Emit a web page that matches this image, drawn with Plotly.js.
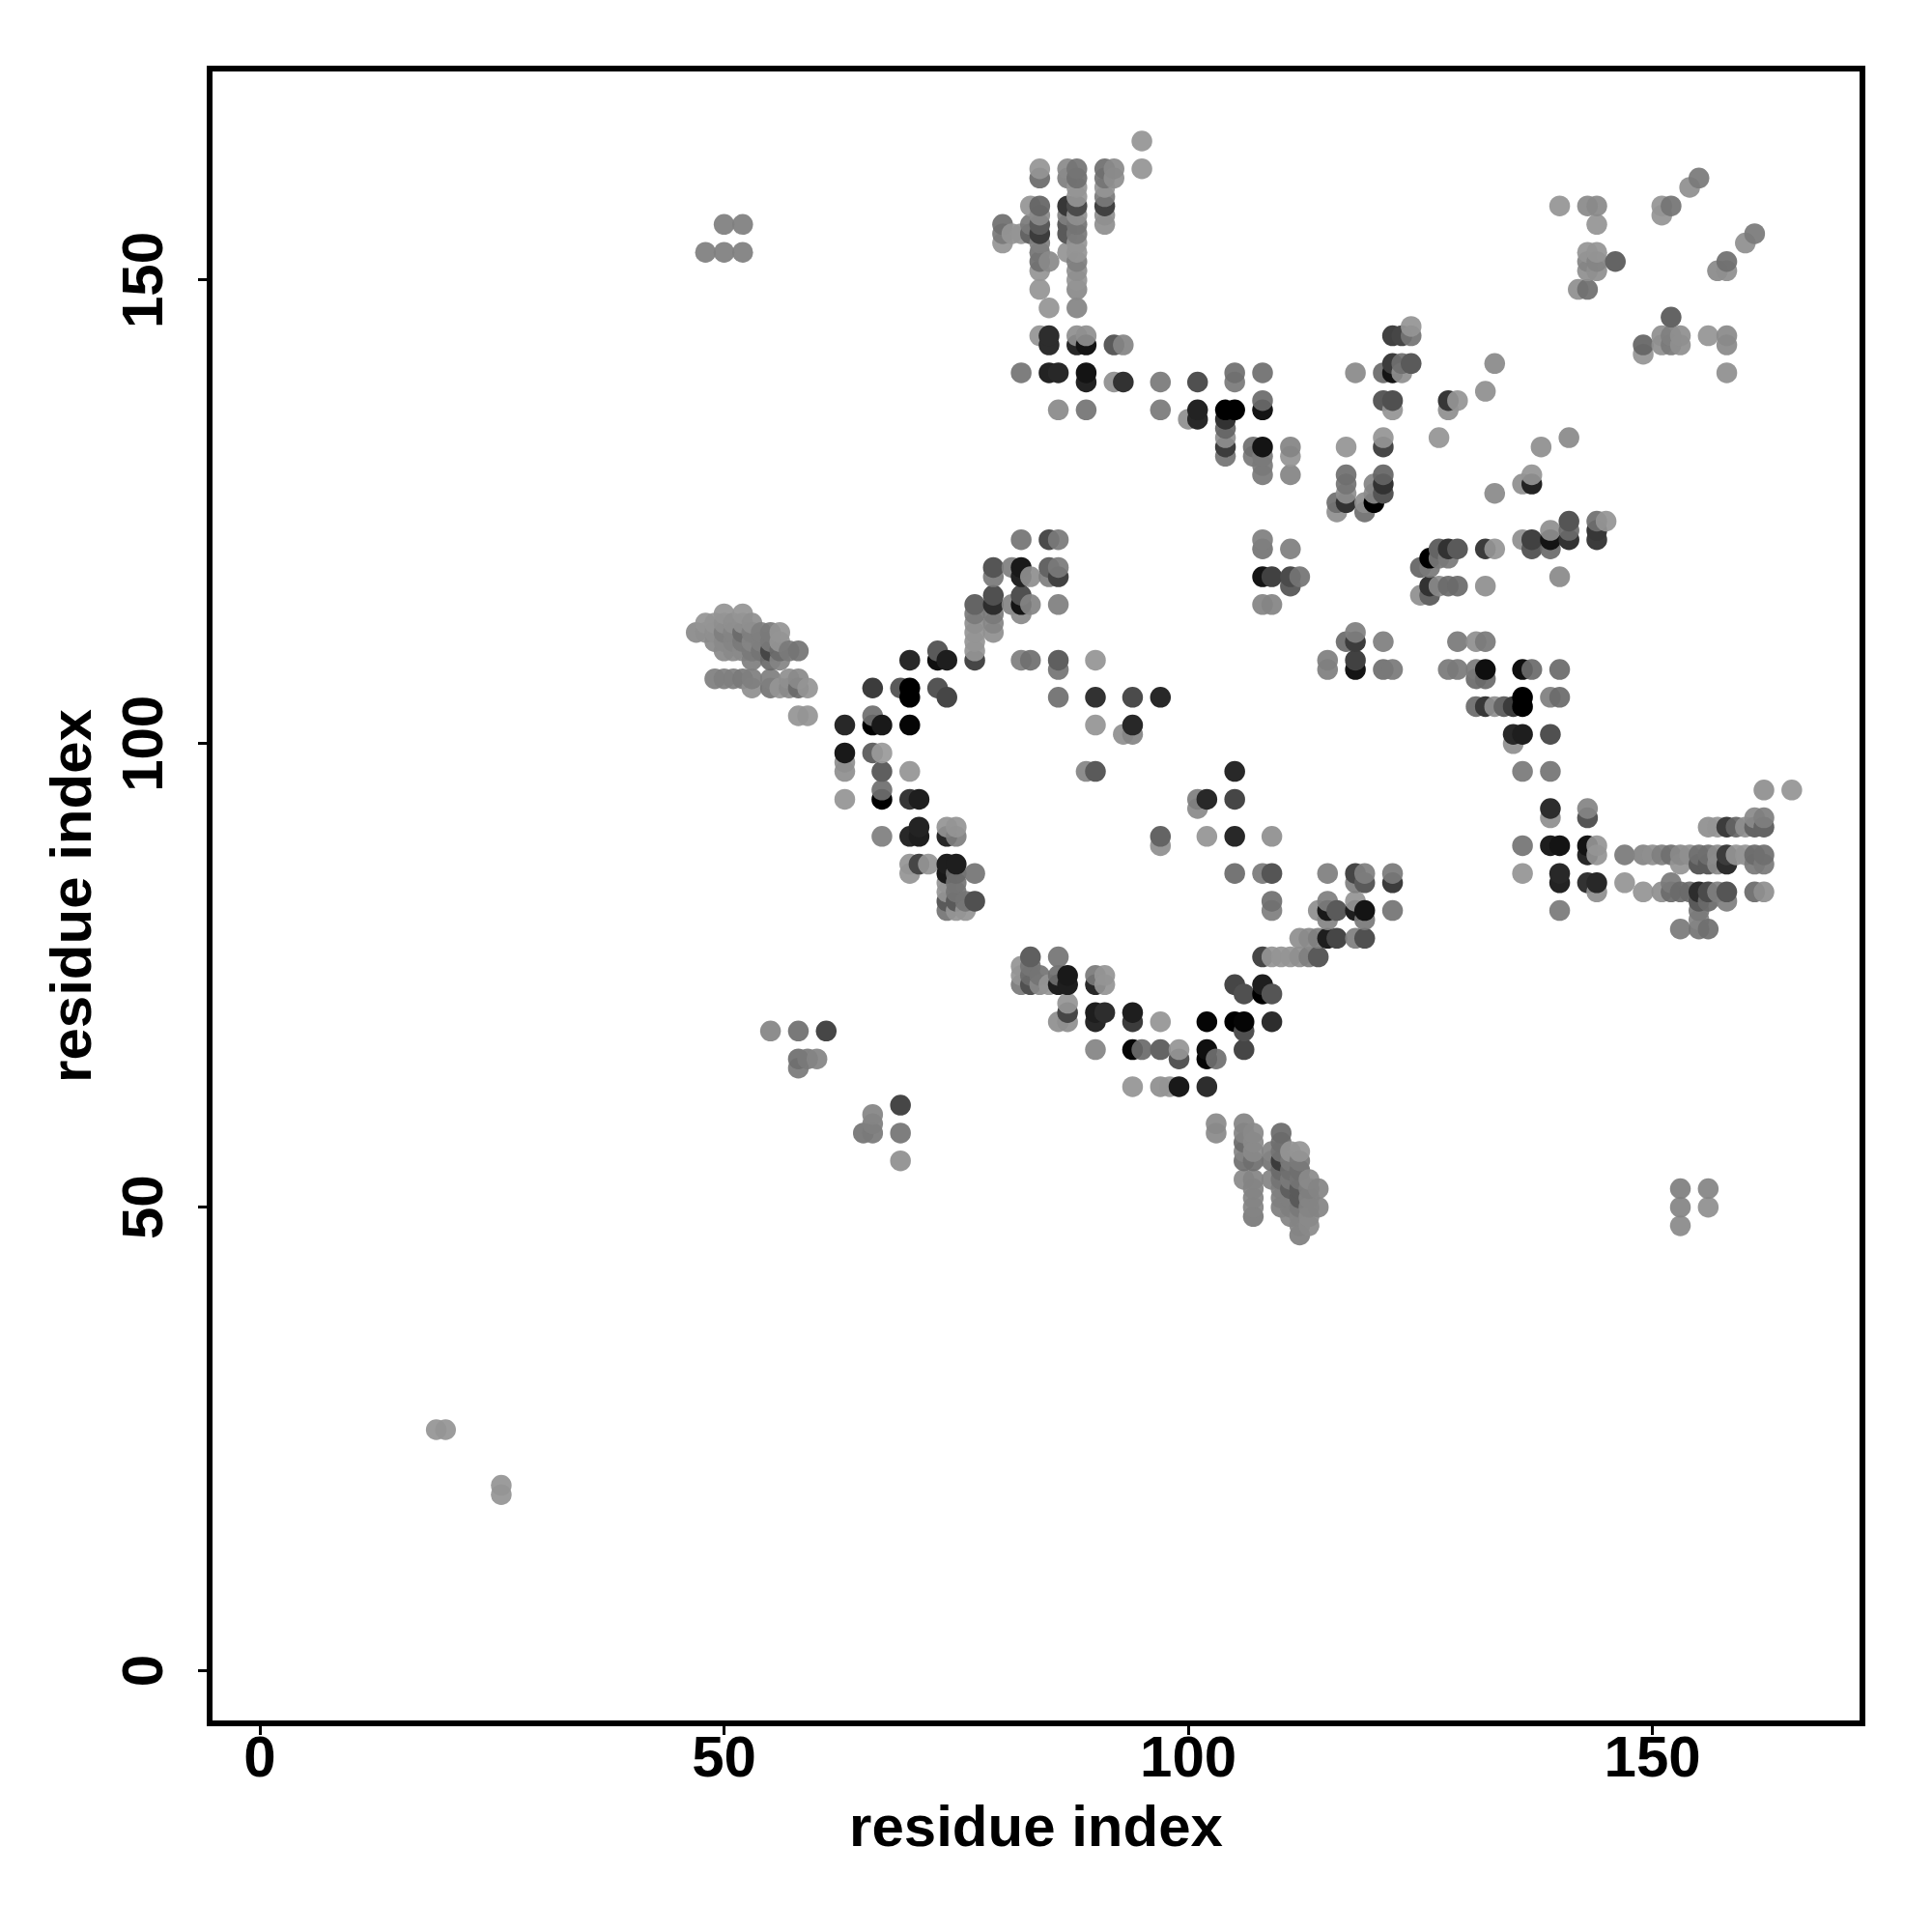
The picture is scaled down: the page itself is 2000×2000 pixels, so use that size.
<!DOCTYPE html>
<html>
<head>
<meta charset="utf-8">
<script src="https://cdn.plot.ly/plotly-3.0.1.min.js"></script>
<style>html,body{margin:0;padding:0;background:#fff}#chart{width:2000px;height:2000px}</style>
</head>
<body>
<div id="chart"></div>
<script>
const axisTitle = "residue index";
const tickValues = [0, 50, 100, 150];
const rowY = [165,162,161,160,159,158,157,156,155,154,153,152,151,150,149,147,146,145,144,143,142,141,140,139,138,137,136,135,134,133,132,131,130,129,128,127,126,125,124,123,122,121,120,119,118,117,116,115,114,113,112,111,110,109,108,107,106,105,104,103,102,101,100,99,98,97,95,94,93,92,91,90,89,88,87,86,85,84,83,82,81,80,79,77,76,75,74,73,72,71,70,69,67,66,65,63,61,60,59,58,57,56,55,54,53,52,51,50,49,48,47,26,20,19];
const rowX = [
[95],
[84,87,88,91,92,95],
[84,87,88,91,92,155],
[88,91,154],
[88,91],
[83,84,87,88,91,140,143,144,151,152],
[84,87,88,91,151],
[50,52,80,83,84,87,88,91,144],
[80,81,82,83,84,87,88,161],
[80,84,88,160],
[48,50,52,84,87,88,143,144],
[84,85,88,143,144,146,158],
[84,88,143,144,157,158],
[88],
[84,88,142,143],
[85,88],
[152],
[124],
[84,85,88,89,122,123,124,151,152,153,156,158],
[85,88,89,92,93,149,151,152,153,158],
[149],
[122,123,124,133],
[82,85,86,89,105,108,118,121,122,123,158],
[89,92,93,97,101,105],
[132],
[108,121,122,128,129],
[86,89,97,101,104,105,108,122,128],
[100,101,104],
[104],
[104,121,127,141],
[104,107,108,111,117,121,138],
[104,107,108,111],
[108],
[108,111,117,121,137],
[117,120,121,136,137],
[117,120,121,133],
[116,117,119,120],
[116,119],
[141,144,145],
[139,141,144],
[82,85,86,108,136,137,139,141,144],
[108,111,127,128,129,132,133,137,139],
[126,127,128],
[79,81,82,85,86,125,126],
[79,82,83,85,86,108,109,111,112,140],
[111,126,127,128,129,132],
[79,82,125,126],
[77,79,81,82,83,86,108,109],
[50,52,77,79,82],
[48,49,50,51,52,53,77,79],
[47,48,49,50,51,52,53,54,55,56,77,79,118],
[49,50,51,52,53,54,55,56,77,117,118,121,129,131,132],
[50,51,52,53,54,55,56,57,58,73,77],
[53,55,56,70,73,74,77,82,83,86,90,115,118],
[86,115,118,121,122,128,129,131,132,136,137,140],
[49,50,51,52,53,55,57,58,131,132],
[53,55,56,57,58,59,66,69,70,73],
[70,74,86,90,94,97,136,139,140],
[131,132,133,134,135,136],
[58,59,66],
[63,66,67,70,90,94],
[93,94,135,136,139],
[135],
[63,66,67],
[63],
[63,67,70,89,90,105,136,139],
[67,162,165],
[63,67,70,71,101,102,105],
[101,139,143],
[139,143,161,162],
[71,74,75,156,157,158,159,160,161,162],
[67,70,71,74,75,97,102,105,109],
[97,136,139,140,143,144],
[143,144,147,149,150,151,152,153,154,155,156,157,158,159,160,161,162],
[70,71,72,74,75,153,155,156,157,158,161,162],
[70,74,75,77,105,108,109,115,118,119,122,136,140],
[74,75,118,119,122,140,143,144,147,152],
[74,75,144,149,151,152,153,154,155,156,157,158,161,162],
[74,75,76,77,109,115,118,155,156,158],
[74,75,76,109,114,115,116,118,119,122,140,155],
[115,119,155],
[153,155,156],
[112,113,114,115,116,118,119],
[83,86,108,109,110,111,112,113,114],
[82,83],
[82,83,84,86,87,90,91],
[82,83,84,85,86,87,90,91,105,108],
[106,108,109],
[87],
[87,90,91,94],
[86,87,90,94,97,102,105,106,109],
[55,58,61,106],
[90,94,95,97,99,102,106],
[58,59,60,99,102,103],
[58],
[94,97,98,99,102],
[69],
[66],
[66,103,106],
[65,66,69,103,106,107,110],
[106,107,110],
[106,107,109,110,111,112],
[69,106,107,109,110,111,112],
[110,111,112],
[106,107,109,110,111,112,113],
[107,110,111,112,113,114,153,156],
[107,110,111,112,113],
[107,110,111,112,113,114,153,156],
[107,111,112,113],
[112,113,153],
[112],
[19,20],
[26],
[26]
];
const rowShade = [
[150],
[150,140,120,115,140,150],
[110,130,115,120,145,125],
[150,150,145],
[150,125],
[150,105,55,75,65,150,140,140,150,120],
[140,130,145,145,150],
[130,130,115,125,90,90,120,145,150],
[125,150,150,100,60,90,125,125],
[150,130,150,145],
[130,130,130,120,150,150,150,150],
[115,140,130,135,135,100,115],
[150,145,145,145,140,145],
[150],
[150,140,145,115],
[150,135],
[100],
[150],
[150,45,145,145,65,70,120,145,130,145,150,140],
[45,40,20,90,135,105,145,125,145,140],
[150],
[60,115,90,140],
[120,35,40,20,115,115,140,110,20,145,145],
[35,145,50,125,80,125],
[145],
[110,90,80,55,150],
[140,120,125,35,0,0,20,150,145],
[145,40,50],
[105],
[145,150,150,140],
[60,115,20,135,150,70,145],
[120,125,125,150],
[125],
[125,135,115,105,150],
[120,135,50,145,35],
[145,140,85,140],
[115,50,145,0],
[145,115],
[85,115,150],
[145,110,55],
[120,75,125,130,145,65,20,50,60],
[120,130,100,50,90,60,150,90,110],
[0,125,125],
[85,130,25,100,125,105,125],
[125,35,145,130,65,20,65,75,120,140],
[95,50,140,110,110,145],
[80,80,145,100],
[100,45,135,20,135,130,135,135],
[150,150,125,125,140],
[150,150,145,145,145,145,145,135],
[140,145,145,130,135,110,130,130,125,150,150,145,130],
[140,140,135,125,135,130,125,150,150,110,60,130,125,145,125],
[140,140,140,125,120,70,110,125,120,90,150],
[130,110,135,40,15,30,70,130,115,95,150,130,65],
[120,130,20,115,125,125,125,125,15,15,110,110],
[130,130,130,125,130,130,145,140,110,110],
[145,120,150,140,110,150,60,90,0,85],
[0,70,115,50,75,40,0,130,110],
[110,55,145,100,60,0],
[150,150,115],
[40,0,25,5,150,40],
[145,135,40,30,80],
[145],
[25,100,155],
[145],
[145,95,150,135,90,40,125,120],
[115,145,150],
[150,0,55,30,130,40,70],
[140,45,135],
[145,85,140,130],
[35,150,150,145,150,60,105,145,100,100],
[130,40,30,40,130,100,150,40,145],
[145,120,30,20,20,150],
[40,150,125,135,145,130,115,140,145,115,115,140,60,150,150,110,115],
[150,70,150,30,30,150,90,90,140,45,125,125],
[150,25,110,120,110,125,85,130,70,130,125,150,40],
[150,120,130,90,60,35,50,40,150,125],
[150,120,145,150,145,110,110,110,45,75,130,85,110,145],
[90,90,120,80,115,130,150,90,110,130],
[120,150,150,130,145,25,90,30,20,120,125,125],
[135,125,135],
[125,120,115],
[145,140,130,30,70,130,80],
[95,120,70,150,150,150,145,130,90],
[150,120],
[150,110,120,115,25,125,150],
[125,80,140,150,30,30,40,150,70,30],
[80,0,85],
[150],
[70,30,45,30],
[145,145,40,60,150,5,0,5,45],
[135,115,70,80],
[135,5,110,100,150,15,70],
[115,125,135,85,5,115],
[125],
[150,145,150,25,45],
[70],
[135],
[130,140,135],
[120,125,120,140,135,140,110],
[110,140,115],
[135,140,135,120,150,150],
[145,115,115,120,60,125,125],
[110,115,115],
[140,135,135,120,125,120,140],
[135,130,95,90,130,135,130,135],
[135,130,130,90,135],
[135,130,130,125,135,135,135,145],
[125,135,135,140],
[135,140,140],
[130],
[150,150],
[150],
[150]
];

const pts = [];
rowY.forEach((y, r) => rowX[r].forEach((x, k) => pts.push({x, y, s: rowShade[r][k]})));
pts.sort((a, b) => a.x - b.x || a.y - b.y);

const ALPHA = 0.93;
const colors = pts.map(p => {
  if (p.s <= 100) return `rgb(${p.s},${p.s},${p.s})`;
  const shown = p.s + 6;
  const c = Math.round((shown - 255 * (1 - ALPHA)) / ALPHA);
  return `rgb(${c},${c},${c})`;
});
const opac = pts.map(p => p.s <= 100 ? 1 : ALPHA);

const fontFam = '"Liberation Sans", Arial, sans-serif';
const W = 2000, H = 2000;
const L = 220, R = 1925, T = 74, B = 1781;

Plotly.newPlot('chart', [{
  type: 'scatter', mode: 'markers',
  x: pts.map(p => p.x), y: pts.map(p => p.y),
  marker: {size: 21.5, color: colors, opacity: opac, line: {width: 0}},
  hoverinfo: 'x+y'
}], {
  width: W, height: H,
  margin: {l: L, r: W - R, t: T, b: H - B, pad: 0},
  paper_bgcolor: '#ffffff', plot_bgcolor: '#ffffff',
  showlegend: false,
  font: {family: fontFam, color: '#000'},
  xaxis: {
    range: [-5.1, 172.3], tickmode: 'array', tickvals: tickValues, ticktext: tickValues.map(String),
    ticks: 'outside', ticklen: 9, tickwidth: 3, tickcolor: '#000',
    showline: true, mirror: true, linewidth: 6, linecolor: '#000',
    showgrid: false, zeroline: false,
    ticklabelstandoff: -29,
    tickfont: {family: fontFam, size: 60, color: '#000', weight: 700},
    title: {text: axisTitle, font: {family: fontFam, size: 60, color: '#000', weight: 700}, standoff: 20}
  },
  yaxis: {
    range: [-5.36, 172.5], tickmode: 'array', tickvals: tickValues, ticktext: tickValues.map(String),
    tickangle: -90,
    ticks: 'outside', ticklen: 9, tickwidth: 3, tickcolor: '#000',
    showline: true, mirror: true, linewidth: 6, linecolor: '#000',
    showgrid: false, zeroline: false,
    ticklabelstandoff: 13, ticklabelshift: 9,
    tickfont: {family: fontFam, size: 60, color: '#000', weight: 700},
    title: {text: axisTitle, font: {family: fontFam, size: 60, color: '#000', weight: 700}, standoff: 2}
  }
}, {staticPlot: true});
</script>
</body>
</html>
